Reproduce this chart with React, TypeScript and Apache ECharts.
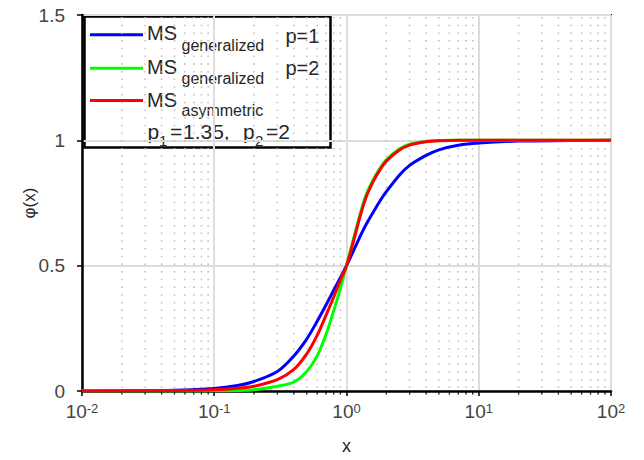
import React, { useEffect, useRef } from "react";
import * as echarts from "echarts";

const X = [0.01, 0.02, 0.05, 0.1, 0.15, 0.2, 0.3, 0.4, 0.5, 0.6, 0.7, 0.8, 0.9, 1, 1.12, 1.25, 1.4, 1.6, 1.8, 2, 2.5, 3, 4, 5, 7, 10, 20, 50, 100];
const BLUE = [0, 0.001, 0.003, 0.01, 0.022, 0.038, 0.078, 0.14, 0.207, 0.278, 0.343, 0.402, 0.453, 0.5, 0.555, 0.61, 0.662, 0.715, 0.76, 0.795, 0.86, 0.9, 0.94, 0.962, 0.98, 0.989, 0.997, 0.999, 1];
const GREEN = [0, 0, 0, 0.001, 0.002, 0.005, 0.019, 0.036, 0.078, 0.14, 0.225, 0.32, 0.41, 0.5, 0.6, 0.695, 0.78, 0.845, 0.89, 0.922, 0.965, 0.985, 0.996, 0.999, 1, 1, 1, 1, 1];
const RED = [0, 0.0005, 0.002, 0.005, 0.011, 0.019, 0.045, 0.086, 0.148, 0.222, 0.302, 0.375, 0.442, 0.5, 0.59, 0.685, 0.77, 0.838, 0.884, 0.917, 0.96, 0.981, 0.994, 0.998, 1, 1, 1, 1, 1];

const DECADES = [0.01, 0.1, 1, 10];
const MULTS = [2, 3, 4, 5, 6, 7, 8, 9];
const MINOR = DECADES.flatMap((d) => MULTS.map((m) => d * m));

const LEGEND_ROWS = [
  { color: "#0000ff", main: "MS", sub: "generalized", extra: "p=1" },
  { color: "#00ff00", main: "MS", sub: "generalized", extra: "p=2" },
  { color: "#ff0000", main: "MS", sub: "asymmetric", extra: "" },
];
const PARAM_PARTS = [
  { text: "p", sub: false, x: 147.5 },
  { text: "1", sub: true, x: 159 },
  { text: "=", sub: false, x: 170 },
  { text: "1.35,", sub: false, x: 183 },
  { text: "p", sub: false, x: 243 },
  { text: "2", sub: true, x: 255 },
  { text: "=2", sub: false, x: 266 },
];

const FONT = "Liberation Sans";
const TXT = "#262626";

export default function App() {
  const ref = useRef<HTMLDivElement>(null);
  useEffect(() => {
    if (!ref.current) return;
    const chart = echarts.init(ref.current, undefined, { renderer: "svg" });
    const rowY = [34.7, 68.3, 100.5];
    const mainY = [32.5, 66.7, 100];
    const subY = [45.5, 78.5, 110];
    const extraY = [35.5, 68];
    const legendChildren: any[] = [
      {
        type: "rect",
        shape: { x: 84.5, y: 16.5, width: 246, height: 131 },
        style: { fill: "#fff", stroke: "#000", lineWidth: 2.5 },
      },
    ];
    LEGEND_ROWS.forEach((r, i) => {
      legendChildren.push({
        type: "line",
        shape: { x1: 90, y1: rowY[i], x2: 143, y2: rowY[i] },
        style: { stroke: r.color, lineWidth: 3 },
      });
      legendChildren.push({
        type: "text",
        x: 147,
        y: mainY[i],
        style: { text: r.main, fontSize: 20, fontFamily: FONT, fill: TXT, verticalAlign: "middle" },
      });
      legendChildren.push({
        type: "text",
        x: 181.5,
        y: subY[i],
        style: { text: r.sub, fontSize: 16, fontFamily: FONT, fill: TXT, verticalAlign: "middle" },
      });
      if (r.extra) {
        legendChildren.push({
          type: "text",
          x: 285.5,
          y: extraY[i],
          style: { text: r.extra, fontSize: 20, fontFamily: FONT, fill: TXT, verticalAlign: "middle" },
        });
      }
    });
    PARAM_PARTS.forEach((p) => {
      legendChildren.push({
        type: "text",
        x: p.x,
        y: p.sub ? 140.5 : 131,
        style: {
          text: p.text,
          fontSize: p.sub ? 15 : 21,
          fontFamily: FONT,
          fill: TXT,
          verticalAlign: "middle",
        },
      });
    });

    const option: any = {
      animation: false,
      textStyle: { fontFamily: FONT },
      grid: {
        left: 82,
        right: 33,
        top: 15,
        bottom: 67,
        show: true,
        borderColor: "#000",
        borderWidth: 2,
        backgroundColor: "transparent",
      },
      xAxis: {
        type: "log",
        logBase: 10,
        min: 0.01,
        max: 100,
        interval: 1,
        name: "x",
        nameLocation: "middle",
        nameGap: 46,
        nameMoveOverlap: false,
        nameTextStyle: { fontSize: 18, color: TXT, fontFamily: FONT },
        axisLine: { show: true, lineStyle: { color: "#000", width: 2.5 } },
        axisTick: { show: true, inside: false, length: 5, lineStyle: { color: "#000", width: 1.5 } },
        splitLine: { show: true, lineStyle: { color: "#dcdcdc", width: 2 } },
        minorTick: { show: false },
        minorSplitLine: { show: false },
        axisLabel: {
          margin: 11,
          formatter: (v: number) => `{b|10}{s|${Math.round(Math.log10(v))}}`,
          rich: {
            b: { fontSize: 19, lineHeight: 19, verticalAlign: "bottom", color: "#444", fontFamily: FONT },
            s: { fontSize: 13, lineHeight: 13, verticalAlign: "top", padding: [0, 0, 9, 0], color: "#444", fontFamily: FONT },
          },
        },
      },
      yAxis: {
        type: "value",
        min: 0,
        max: 1.5,
        interval: 0.5,
        name: "φ(x)",
        nameLocation: "middle",
        nameGap: 44,
        nameMoveOverlap: false,
        nameTextStyle: { fontSize: 17, color: TXT, fontFamily: FONT },
        axisLine: { show: true, lineStyle: { color: "#000", width: 2.5 } },
        axisTick: { show: true, inside: false, length: 5, lineStyle: { color: "#000", width: 1.5 } },
        splitLine: { show: true, lineStyle: { color: "#dcdcdc", width: 2 } },
        axisLabel: {
          margin: 17,
          fontSize: 19,
          color: "#444",
          fontFamily: FONT,
          formatter: (v: number) => String(v),
        },
      },
      series: [
        {
          type: "custom",
          silent: true,
          clip: false,
          z: 1,
          data: MINOR.map((v) => [v, 0]),
          encode: { x: 0, y: 1 },
          renderItem: (params: any, api: any) => {
            const xv = api.value(0);
            const top = api.coord([xv, 1.5]);
            const bot = api.coord([xv, 0]);
            return {
              type: "group",
              children: [
                {
                  type: "line",
                  shape: { x1: top[0], y1: top[1] + 2, x2: bot[0], y2: bot[1] - 2 },
                  style: { stroke: "#bdbdbd", lineWidth: 1.5, lineDash: [1.5, 6.2] },
                },
                {
                  type: "line",
                  shape: { x1: bot[0], y1: bot[1], x2: bot[0], y2: bot[1] + 3.5 },
                  style: { stroke: "#000", lineWidth: 1.2 },
                },
              ],
            };
          },
        },
        {
          type: "line",
          data: X.map((x, i) => [x, BLUE[i]]),
          showSymbol: false,
          smooth: 0.3,
          lineStyle: { color: "#0000ff", width: 3 },
          z: 3,
        },
        {
          type: "line",
          data: X.map((x, i) => [x, GREEN[i]]),
          showSymbol: false,
          smooth: 0.3,
          lineStyle: { color: "#00ff00", width: 3 },
          z: 4,
        },
        {
          type: "line",
          data: X.map((x, i) => [x, RED[i]]),
          showSymbol: false,
          smooth: 0.3,
          lineStyle: { color: "#ff0000", width: 3 },
          z: 5,
        },
      ],
      graphic: [{ type: "group", z: 100, children: legendChildren }],
    };
    chart.setOption(option);
    return () => chart.dispose();
  }, []);
  return <div ref={ref} style={{ width: 644, height: 460, position: "absolute", left: 0, top: 0 }} />;
}
